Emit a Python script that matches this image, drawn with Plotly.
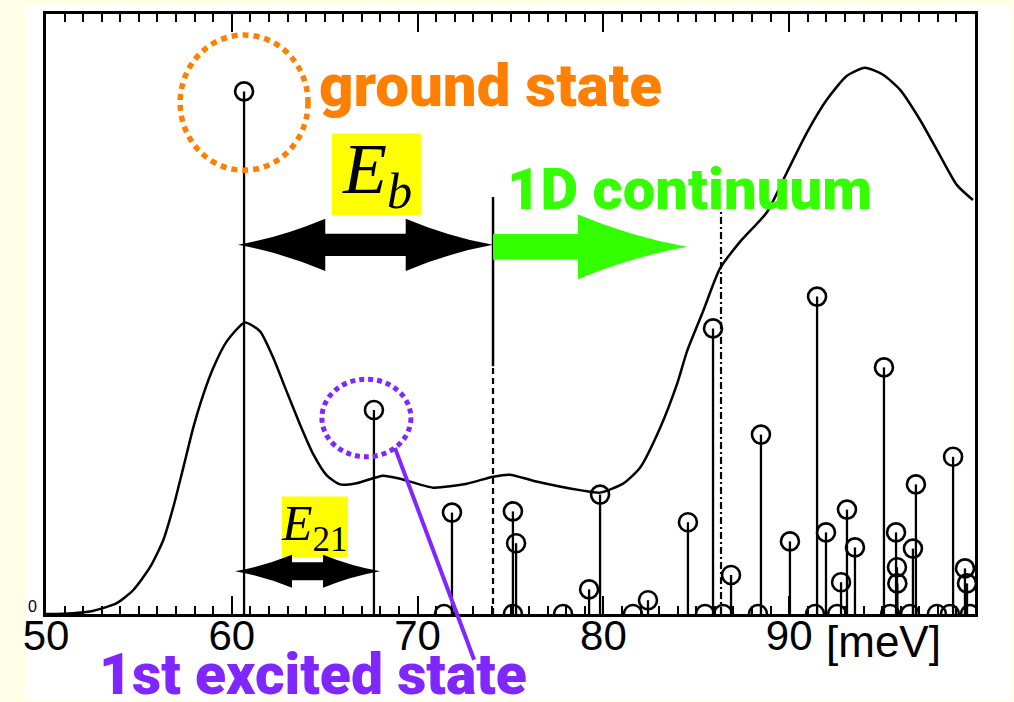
import plotly.graph_objects as go

# ---------------- data ----------------
X_RANGE = [50, 100]
Y_RANGE = [0, 100]
tick_vals = [50, 60, 70, 80, 90]
tick_text = ["50", "60", "70", "80", "90"]
unit_text = "[meV]"

# absorption-like spectrum (solid curve)
curve_e = [50.00, 50.58, 52.37, 53.81, 54.70, 55.60, 56.31, 56.85, 57.39, 57.93,
           58.47, 59.00, 59.72, 60.71, 61.52, 62.23, 62.95, 63.67, 64.39, 65.11,
           65.82, 66.72, 68.14, 69.05, 70.83, 72.66, 74.06, 74.97, 76.21, 78.90,
           79.82, 81.06, 81.97, 83.05, 83.96, 84.50, 85.36, 86.27, 87.35, 88.81,
           89.88, 90.96, 92.03, 93.11, 94.08, 95.05, 95.96, 97.03, 98.11, 99.03, 99.89]
curve_i = [0.00, 0.00, 0.40, 1.80, 4.00, 7.80, 12.30, 17.80, 24.40, 31.10,
           36.60, 41.00, 45.40, 48.60, 47.10, 42.70, 37.10, 31.60, 26.60, 23.10,
           21.60, 21.80, 23.05, 22.55, 21.06, 21.72, 22.89, 23.22, 22.22, 20.56,
           20.23, 21.72, 24.38, 31.01, 38.31, 43.78, 50.41, 57.55, 62.02, 67.00,
           73.63, 80.27, 85.74, 89.72, 91.04, 89.88, 87.40, 82.42, 76.45, 71.48, 68.99]

# oscillator strengths (stems with open circles)
stem_e = [60.66, 67.65, 71.85, 75.13, 75.30, 79.23, 79.82, 82.40, 84.55, 85.90,
          86.87, 88.48, 90.04, 91.50, 91.98, 92.79, 93.11, 93.54, 95.10, 95.75,
          95.80, 95.82, 96.66, 96.82, 98.82, 99.46, 99.57]
stem_h = [87.1, 34.0, 16.9, 17.1, 11.8, 4.1, 19.9, 2.3, 15.3, 47.6,
          6.5, 29.9, 12.1, 52.9, 13.6, 5.3, 17.4, 11.1, 41.1, 13.6,
          7.8, 5.1, 10.9, 21.6, 26.2, 7.6, 5.1]
# states with (almost) zero strength
base_e = [71.42, 75.13, 77.83, 81.59, 85.47, 86.44, 88.32, 91.39, 92.58,
          95.43, 96.50, 97.95, 98.65, 99.73]

E_ground = 60.66
E_first = 67.65
E_cont = 74.06
E_edge2 = 86.33
cont_solid_top = 69.5
cont_dash_top = 41.3
edge2_top = 67.3

label_ground = "ground state"
label_cont = "1D continuum"
label_first = "1st excited state"
label_Eb = "<i>E</i><sub><i>b</i></sub>"
label_E21 = "<i>E</i><sub>21</sub>"

ORANGE = "#FF8000"
GREEN = "#33FF00"
PURPLE = "#8026FF"
YELLOW = "#FFFF00"
CREAM = "#FFFFE8"
BIG_FONT = "Roboto, Liberation Sans, Arial, sans-serif"
SANS = "Liberation Sans, Arial, sans-serif"
SERIF = "Liberation Serif, Times New Roman, serif"


def px(x):
    return (x - X_RANGE[0]) / (X_RANGE[1] - X_RANGE[0])


def py(y):
    return (y - Y_RANGE[0]) / (Y_RANGE[1] - Y_RANGE[0])


def double_arrow(xl, xr, yc, hlen, hh, sh, bend=0.3):
    hl, hr = xl + hlen, xr - hlen
    ml, mr = xl + hlen * 0.5, xr - hlen * 0.5
    return (f"M{xl},{yc} Q{ml},{yc + hh * bend} {hl},{yc + hh} L{hl},{yc + sh} "
            f"L{hr},{yc + sh} L{hr},{yc + hh} Q{mr},{yc + hh * bend} {xr},{yc} "
            f"Q{mr},{yc - hh * bend} {hr},{yc - hh} L{hr},{yc - sh} L{hl},{yc - sh} "
            f"L{hl},{yc - hh} Q{ml},{yc - hh * bend} {xl},{yc} Z")


def single_arrow(xs, xh, xt, yc, hh, sh, bend=0.3):
    m = xh + (xt - xh) * 0.5
    return (f"M{xs},{yc + sh} L{xh},{yc + sh} L{xh},{yc + hh} Q{m},{yc + hh * bend} {xt},{yc} "
            f"Q{m},{yc - hh * bend} {xh},{yc - hh} L{xh},{yc - sh} L{xs},{yc - sh} Z")


fig = go.Figure()

# spectrum curve
fig.add_trace(go.Scatter(x=curve_e, y=curve_i, mode="lines",
                         line=dict(color="black", width=2.5, shape="spline", smoothing=0.6),
                         hoverinfo="skip"))

# stems
sx, sy = [], []
for e, h in zip(stem_e, stem_h):
    sx += [e, e, None]
    sy += [0, h, None]
fig.add_trace(go.Scatter(x=sx, y=sy, mode="lines", line=dict(color="black", width=2.3),
                         hoverinfo="skip"))

# continuum edge lines
fig.add_trace(go.Scatter(x=[E_cont, E_cont], y=[cont_dash_top, cont_solid_top], mode="lines",
                         line=dict(color="black", width=2.5), hoverinfo="skip"))
fig.add_trace(go.Scatter(x=[E_cont, E_cont], y=[0, cont_dash_top], mode="lines",
                         line=dict(color="black", width=2.2, dash="6px,4px"), hoverinfo="skip"))
fig.add_trace(go.Scatter(x=[E_edge2, E_edge2], y=[0, edge2_top], mode="lines",
                         line=dict(color="black", width=2.2, dash="7px,3px,2px,3px"),
                         hoverinfo="skip"))

# circles
fig.add_trace(go.Scatter(x=stem_e + base_e, y=stem_h + [0] * len(base_e), mode="markers",
                         marker=dict(symbol="circle-open", size=18, color="black",
                                     line=dict(width=2.6, color="black")),
                         hoverinfo="skip"))

shapes = []
# white slide area
shapes.append(dict(type="rect", xref="paper", yref="paper", x0=-0.0226, x1=1.0398,
                   y0=-0.1426, y1=1.0133, fillcolor="white", line=dict(width=0), layer="below"))
# yellow boxes
shapes.append(dict(type="rect", xref="x", yref="y", x0=65.39, x1=70.18, y0=66.5, y1=80.1,
                   fillcolor=YELLOW, line=dict(width=0), layer="above"))
shapes.append(dict(type="rect", xref="x", yref="y", x0=62.70, x1=66.25, y0=9.45, y1=19.57,
                   fillcolor=YELLOW, line=dict(width=0), layer="above"))
# green continuum arrow
shapes.append(dict(type="path", xref="x", yref="y",
                   path=single_arrow(E_cont, 78.63, 84.50, 61.19, 5.39, 2.16),
                   fillcolor=GREEN, line=dict(width=0), layer="above"))
# E_b arrow
shapes.append(dict(type="path", xref="x", yref="y",
                   path=double_arrow(E_ground - 0.33, E_cont, 61.53, 4.7, 4.36, 1.85),
                   fillcolor="black", line=dict(width=0), layer="above"))
# E_21 arrow
shapes.append(dict(type="path", xref="x", yref="y",
                   path=double_arrow(E_ground - 0.49, E_first + 0.33, 7.13, 3.07, 2.74, 1.49),
                   fillcolor="black", line=dict(width=0), layer="above"))
# orange dotted circle around ground state
shapes.append(dict(type="circle", xref="x", yref="y", x0=E_ground - 3.44, x1=E_ground + 3.44,
                   y0=73.96, y1=96.5, line=dict(color=ORANGE, width=5.5, dash="6px,5px"),
                   layer="above"))
# purple dotted circle around 1st excited state
shapes.append(dict(type="circle", xref="x", yref="y", x0=64.85, x1=69.64, y0=26.2, y1=39.14,
                   line=dict(color=PURPLE, width=5, dash="5px,4px"), layer="above"))
# purple pointer line
shapes.append(dict(type="line", xref="paper", yref="paper", x0=px(68.78), y0=py(27.69),
                   x1=px(73.04), y1=py(-7.63), line=dict(color=PURPLE, width=4), layer="above"))

annotations = [
    dict(x=px(64.59), y=py(88.06), xref="paper", yref="paper", text=label_ground, showarrow=False,
         xanchor="left", yanchor="middle",
         font=dict(family=BIG_FONT, size=60, color=ORANGE, weight=900)),
    dict(x=px(74.70), y=py(70.9), xref="paper", yref="paper", text=label_cont, showarrow=False,
         xanchor="left", yanchor="middle",
         font=dict(family=BIG_FONT, size=58, color=GREEN, weight=900)),
    dict(x=px(52.74), y=py(-10.0), xref="paper", yref="paper", text=label_first, showarrow=False,
         xanchor="left", yanchor="middle",
         font=dict(family=BIG_FONT, size=57, color=PURPLE, weight=900)),
    dict(x=px(67.81), y=py(73.3), xref="paper", yref="paper", text=label_Eb, showarrow=False,
         xanchor="center", yanchor="middle",
         font=dict(family=SERIF, size=72, color="black")),
    dict(x=px(64.45), y=py(14.5), xref="paper", yref="paper", text=label_E21, showarrow=False,
         xanchor="center", yanchor="middle",
         font=dict(family=SERIF, size=50, color="black")),
    dict(x=px(91.85), y=py(-4.54), xref="paper", yref="paper", text=unit_text, showarrow=False,
         xanchor="left", yanchor="middle",
         font=dict(family=SANS, size=44, color="black")),
    dict(x=px(49.25), y=py(1.3), xref="paper", yref="paper", text="0", showarrow=False,
         xanchor="center", yanchor="middle",
         font=dict(family=SANS, size=16, color="black")),
]

fig.update_layout(
    width=1014, height=702,
    margin=dict(l=46, r=39, t=11, b=88),
    paper_bgcolor=CREAM, plot_bgcolor="white",
    showlegend=False, hovermode=False,
    shapes=shapes, annotations=annotations,
    xaxis=dict(range=X_RANGE, tickmode="array", tickvals=tick_vals, ticktext=tick_text,
               ticks="inside", ticklen=18, tickwidth=2, tickcolor="black",
               ticklabelstandoff=-17,
               showline=True, linewidth=2.5, linecolor="black", mirror="ticks",
               showgrid=False, zeroline=False,
               tickfont=dict(family=SANS, size=42, color="black"),
               minor=dict(tickmode="linear", tick0=50, dtick=1, ticks="inside", ticklen=8,
                          tickwidth=1.8, tickcolor="black", showgrid=False)),
    yaxis=dict(range=Y_RANGE, showline=True, linewidth=2.5, linecolor="black", mirror=True,
               showticklabels=False, ticks="", showgrid=False, zeroline=False),
)

fig.write_html("out.html")
